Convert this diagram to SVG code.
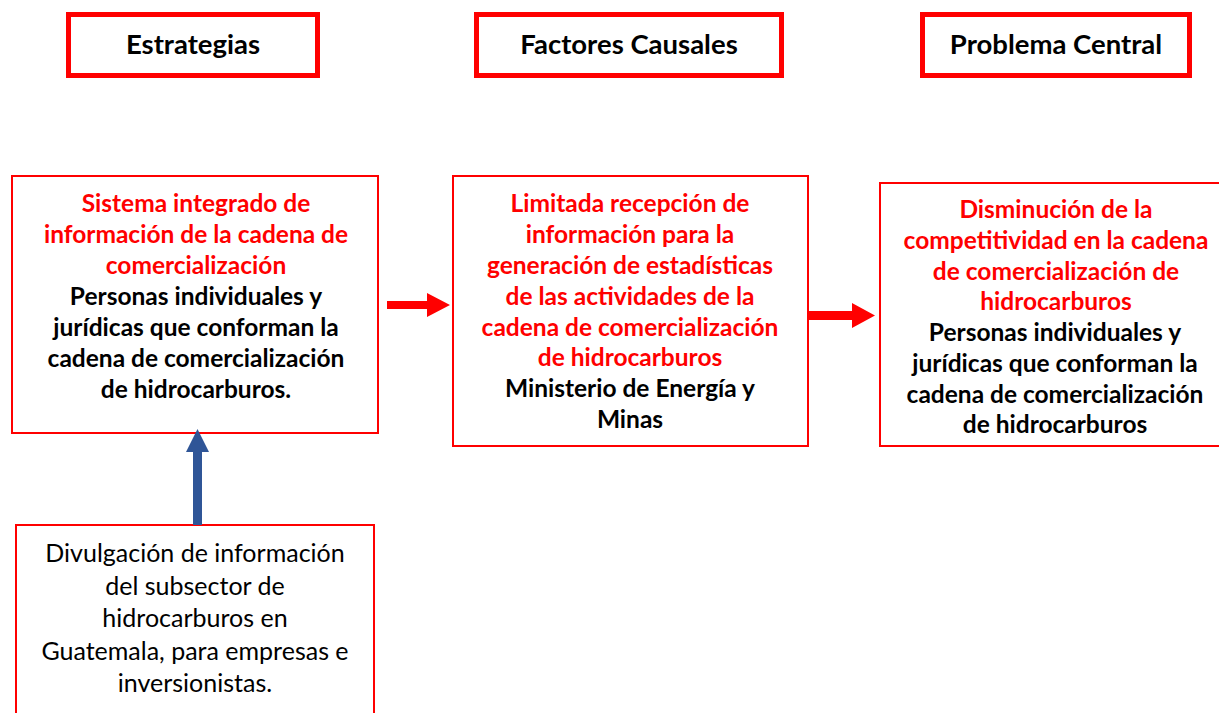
<svg xmlns="http://www.w3.org/2000/svg" width="1219" height="713" viewBox="0 0 1219 713">
<style>
.hdr{fill:#fff;stroke:#ff0000;stroke-width:5}
.box{fill:#fff;stroke:#ff0000;stroke-width:2}
text{font-family:Lato,"Open Sans","Liberation Sans",sans-serif;font-size:24.5px;text-anchor:middle}
.h{font-size:27.5px;font-weight:bold;fill:#000}
.b{font-weight:bold;fill:#000}
.r{font-weight:bold;fill:#ff0000}
.n{fill:#000;font-size:25px}
</style>
<rect width="1219" height="713" fill="#fff"/>
<g id="h1"><rect class="hdr" x="68.5" y="14.5" width="249" height="61"/><text class="h" x="193" y="54">Estrategias</text></g>
<g id="h2"><rect class="hdr" x="476.5" y="14.5" width="305" height="61"/><text class="h" x="629" y="54">Factores Causales</text></g>
<g id="h3"><rect class="hdr" x="922.5" y="14.5" width="267" height="61"/><text class="h" x="1056" y="54">Problema Central</text></g>

<g id="n1"><rect class="box" x="12" y="176" width="366" height="257"/>
<text class="r" x="196" y="212">Sistema integrado de</text>
<text class="r" x="196" y="243">información de la cadena de</text>
<text class="r" x="196" y="274">comercialización</text>
<text class="b" x="196" y="305">Personas individuales y</text>
<text class="b" x="196" y="336">jurídicas que conforman la</text>
<text class="b" x="196" y="367">cadena de comercialización</text>
<text class="b" x="196" y="398">de hidrocarburos.</text>
</g>
<g id="n2"><rect class="box" x="453" y="176" width="355" height="270"/>
<text class="r" x="630" y="212">Limitada recepción de</text>
<text class="r" x="630" y="243">información para la</text>
<text class="r" x="630" y="274">generación de estadísticas</text>
<text class="r" x="630" y="305">de las actividades de la</text>
<text class="r" x="630" y="336">cadena de comercialización</text>
<text class="r" x="630" y="366">de hidrocarburos</text>
<text class="b" x="630" y="397">Ministerio de Energía y</text>
<text class="b" x="630" y="428">Minas</text>
</g>
<g id="n3"><rect class="box" x="880" y="183" width="345" height="263"/>
<text class="r" x="1056" y="218">Disminución de la</text>
<text class="r" x="1056" y="249">competitividad en la cadena</text>
<text class="r" x="1056" y="280">de comercialización de</text>
<text class="r" x="1056" y="310">hidrocarburos</text>
<text class="b" x="1055" y="341">Personas individuales y</text>
<text class="b" x="1055" y="372">jurídicas que conforman la</text>
<text class="b" x="1055" y="403">cadena de comercialización</text>
<text class="b" x="1055" y="433">de hidrocarburos</text>
</g>
<g id="n4"><rect class="box" x="16" y="525" width="358" height="200"/>
<text class="n" x="195" y="562">Divulgación de información</text>
<text class="n" x="195" y="594.5">del subsector de</text>
<text class="n" x="195" y="627">hidrocarburos en</text>
<text class="n" x="195" y="659.5">Guatemala, para empresas e</text>
<text class="n" x="195" y="692">inversionistas.</text>
</g>
<g id="connectors">
<polygon fill="#ff0000" points="387,301 427,301 427,293 450,305 427,317 427,309 387,309"/>
<polygon fill="#ff0000" points="808,311 852,311 852,303 875,315.5 852,328 852,320 808,320"/>
<polygon fill="#2f5597" points="193,525 193,452 186,452 197.5,429 209,452 202,452 202,525"/>
</g>
</svg>
